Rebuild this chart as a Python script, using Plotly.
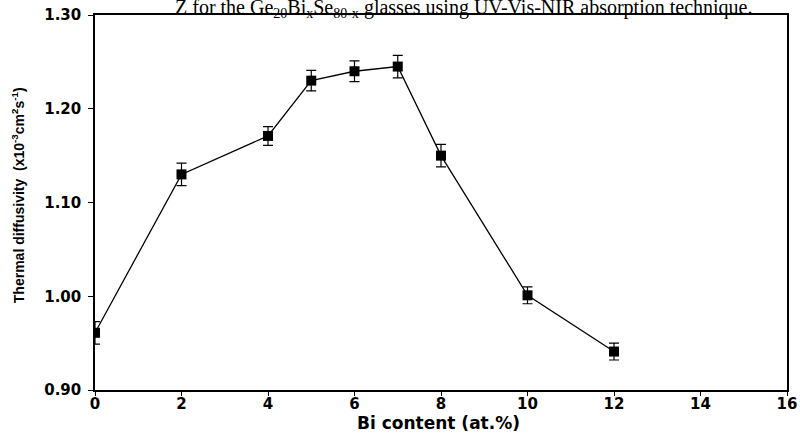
import plotly.graph_objects as go

bi_content = [0, 2, 4, 5, 6, 7, 8, 10, 12]
diffusivity = [0.961, 1.130, 1.171, 1.230, 1.240, 1.245, 1.150, 1.001, 0.941]
errors = [0.012, 0.012, 0.010, 0.011, 0.011, 0.012, 0.012, 0.009, 0.009]
x_ticks = [0, 2, 4, 6, 8, 10, 12, 14, 16]
y_ticks = [0.90, 1.00, 1.10, 1.20, 1.30]
y_tick_labels = ["0.90", "1.00", "1.10", "1.20", "1.30"]

fig = go.Figure()
fig.add_trace(go.Scatter(
    x=bi_content, y=diffusivity, mode="lines+markers",
    line=dict(color="black", width=1.3),
    marker=dict(symbol="square", size=10, color="black"),
    error_y=dict(type="data", array=errors, visible=True, color="black", thickness=1.2, width=5),
    showlegend=False,
))

tickfont = dict(family="DejaVu Sans", size=15, color="black")
fig.update_layout(
    width=800, height=437,
    margin=dict(l=95, r=13, t=15, b=47),
    plot_bgcolor="white", paper_bgcolor="white",
    xaxis=dict(range=[0, 16], tickvals=x_ticks, ticktext=["<b>%d</b>" % v for v in x_ticks],
               ticks="outside", ticklen=4, tickcolor="black", automargin=False,
               ticklabelstandoff=-5,
               showline=True, linecolor="black", linewidth=1.5, mirror=True, showgrid=False,
               zeroline=False, tickfont=tickfont),
    yaxis=dict(range=[0.90, 1.30], tickvals=y_ticks, ticktext=["<b>%s</b>" % t for t in y_tick_labels],
               ticks="outside", ticklen=5, tickcolor="black", automargin=False,
               ticklabelstandoff=4,
               showline=True, linecolor="black", linewidth=1.5, mirror=True, showgrid=False,
               zeroline=False, tickfont=tickfont),
)

fig.add_annotation(
    text="<b>Bi content (at.%)</b>",
    xref="paper", yref="paper", x=0.496, y=-0.088, showarrow=False,
    font=dict(family="DejaVu Sans", size=17, color="black"),
    xanchor="center", yanchor="middle",
)
fig.add_annotation(
    text="<b>Thermal diffusivity  (x10<sup>-3</sup>cm<sup>2</sup>s<sup>-1</sup>)</b>",
    xref="paper", yref="paper", x=-0.111, y=0.52, textangle=-90, showarrow=False,
    font=dict(family="Liberation Sans, Arial", size=14, color="black"),
    xanchor="center", yanchor="middle",
)
fig.add_annotation(
    text="Z for the Ge<sub>20</sub>Bi<sub>x</sub>Se<sub>80-x</sub> glasses using UV-Vis-NIR absorption technique.",
    xref="paper", yref="paper", x=0.532, y=1.0, yshift=-8, showarrow=False,
    font=dict(family="Liberation Serif, Times New Roman", size=20, color="black"),
    xanchor="center", yanchor="bottom",
)

fig.write_html("out.html", config={"displayModeBar": False},
               post_script="document.body.style.margin='0';document.body.style.overflow='hidden';")
